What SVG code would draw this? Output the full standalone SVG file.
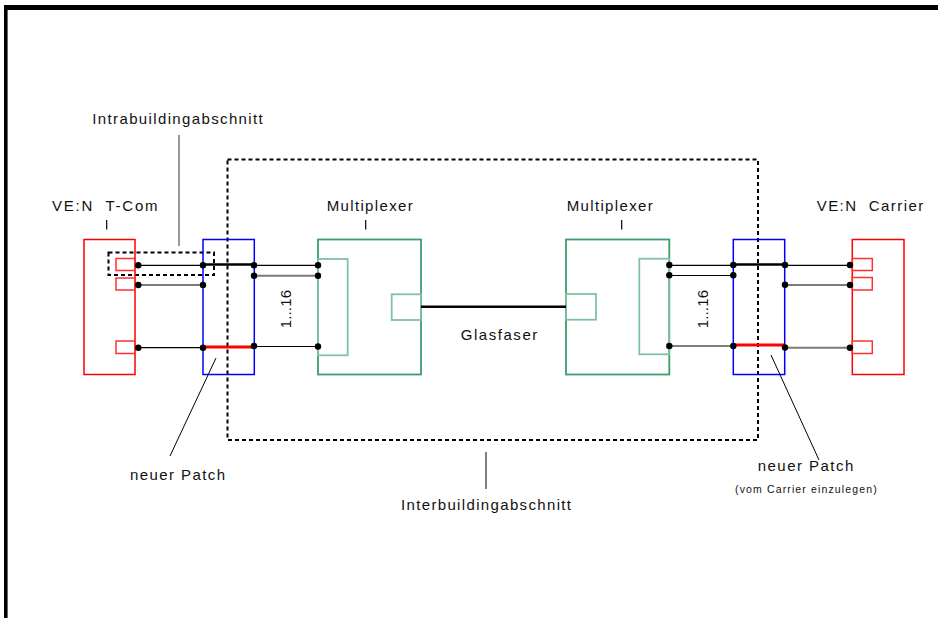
<svg xmlns="http://www.w3.org/2000/svg" width="938" height="618" viewBox="0 0 938 618">
<style>
text{font-family:"Liberation Sans",Arial,sans-serif;font-size:15px;fill:#111}
.small{font-size:10.5px}
.red{fill:none;stroke:#ff0000;stroke-width:1.5}
.port{fill:none;stroke:#ff3030;stroke-width:1.5}
.blue{fill:none;stroke:#0000ff;stroke-width:1.5}
.green{fill:none;stroke:#3b9d6c;stroke-width:1.8}
.green2{fill:none;stroke:#7fc2a2;stroke-width:1.8}
.thin{stroke:#000;stroke-width:1.2;fill:none}
.gray{stroke:#7a7a7a;stroke-width:2;fill:none}
.bold{stroke:#000;stroke-width:2.6;fill:none}
.patch{stroke:#ff0000;stroke-width:3;fill:none}
.dash{fill:none;stroke:#000;stroke-width:2;stroke-dasharray:4 3}
.lead{stroke:#000;stroke-width:1;fill:none}
.lead2{stroke:#777;stroke-width:1.5;fill:none}
.tick{stroke:#000;stroke-width:1.2}
.dot{fill:#000}
</style>
<g id="frame">
<line x1="4" y1="7.5" x2="938" y2="7.5" stroke="#000" stroke-width="5"/>
<line x1="5.8" y1="5" x2="5.8" y2="618" stroke="#000" stroke-width="3.6"/>
</g>
<g id="interbuilding-area">
<rect class="dash" x="227.5" y="159.5" width="530.5" height="280.5"/>
</g>
<g id="intrabuilding-area">
<rect class="dash" x="108.5" y="252.5" width="105.5" height="22.5"/>
</g>
<g id="ven-tcom">
<rect class="red" x="84" y="239.5" width="51" height="135"/>
<rect class="port" x="116" y="258.5" width="19" height="12"/>
<rect class="port" x="116" y="278" width="19" height="12"/>
<rect class="port" x="116" y="341" width="19" height="12.5"/>
<text x="52" y="211" textLength="105.5" lengthAdjust="spacing" xml:space="preserve">VE:N  T-Com</text>
<line class="tick" x1="106.7" y1="220" x2="106.7" y2="229.5"/>
</g>
<g id="patchpanel-left">
<rect class="blue" x="203" y="239.5" width="51.3" height="135"/>
</g>
<g id="mux-left">
<rect class="green" x="318" y="239.5" width="103" height="135"/>
<rect class="green2" x="318" y="259" width="29.7" height="96.3"/>
<rect class="green2" x="391.7" y="294.3" width="29.3" height="25.7"/>
<text x="326.7" y="211" textLength="86" lengthAdjust="spacing">Multiplexer</text>
<line class="tick" x1="365.7" y1="220" x2="365.7" y2="229.5"/>
</g>
<g id="mux-right">
<rect class="green" x="566" y="239.5" width="103.3" height="135"/>
<rect class="green2" x="639.3" y="258.7" width="29.7" height="95.6"/>
<rect class="green2" x="566" y="294" width="30" height="25.7"/>
<text x="566.7" y="211" textLength="86" lengthAdjust="spacing">Multiplexer</text>
<line class="tick" x1="621.7" y1="220" x2="621.7" y2="229.5"/>
</g>
<g id="patchpanel-right">
<rect class="blue" x="733.3" y="239.5" width="51.4" height="135"/>
</g>
<g id="ven-carrier">
<rect class="red" x="852.3" y="239.5" width="51.7" height="135"/>
<rect class="port" x="852.3" y="258.5" width="20" height="12"/>
<rect class="port" x="852.3" y="277.5" width="20" height="12.5"/>
<rect class="port" x="852.3" y="341" width="20" height="12.5"/>
<text x="816.7" y="211" textLength="106.6" lengthAdjust="spacing" xml:space="preserve">VE:N  Carrier</text>
</g>
<g id="connectors">
<line class="thin" x1="138" y1="265.3" x2="203" y2="265.3"/>
<line class="bold" x1="203" y1="264.5" x2="254" y2="264.5"/>
<line class="thin" x1="254" y1="265.3" x2="318" y2="265.3"/>
<line class="gray" x1="138" y1="285" x2="203" y2="285"/>
<line class="gray" x1="254" y1="275.7" x2="318" y2="275.7"/>
<line class="thin" x1="138" y1="347.7" x2="203" y2="347.7"/>
<line class="patch" x1="203" y1="347" x2="254" y2="347"/>
<line class="thin" x1="254" y1="346.5" x2="318" y2="346.5"/>
<line class="bold" x1="421" y1="306.7" x2="566" y2="306.7"/>
<line class="thin" x1="669" y1="265.3" x2="733.3" y2="265.3"/>
<line class="bold" x1="733.3" y1="264.5" x2="785" y2="264.5"/>
<line class="thin" x1="785" y1="265.3" x2="850" y2="265.3"/>
<line class="thin" x1="669" y1="275.5" x2="733.3" y2="275.5"/>
<line class="gray" x1="785" y1="285" x2="850" y2="285"/>
<line class="thin" x1="669" y1="346" x2="733.3" y2="346"/>
<line class="patch" x1="733.3" y1="345" x2="785" y2="345"/>
<line class="gray" x1="785" y1="347.7" x2="850" y2="347.7"/>
<g class="dot">
<circle cx="138.3" cy="265.3" r="3.2"/><circle cx="138.3" cy="285" r="3.2"/><circle cx="138.3" cy="347.7" r="3.2"/>
<circle cx="203" cy="265.3" r="3.2"/><circle cx="203" cy="285" r="3.2"/><circle cx="203" cy="347.7" r="3.2"/>
<circle cx="254" cy="265.3" r="3.2"/><circle cx="254" cy="275.7" r="3.2"/><circle cx="254" cy="346" r="3.2"/>
<circle cx="318" cy="265.3" r="3.2"/><circle cx="318" cy="275.7" r="3.2"/><circle cx="318" cy="346.5" r="3.2"/>
<circle cx="669.3" cy="265" r="3.2"/><circle cx="669.3" cy="275.3" r="3.2"/><circle cx="669.3" cy="346" r="3.2"/>
<circle cx="733.3" cy="265" r="3.2"/><circle cx="733.3" cy="275.3" r="3.2"/><circle cx="733.3" cy="346" r="3.2"/>
<circle cx="785" cy="265" r="3.2"/><circle cx="785" cy="284.7" r="3.2"/><circle cx="785" cy="347.5" r="3.2"/>
<circle cx="850" cy="265" r="3.2"/><circle cx="850" cy="285" r="3.2"/><circle cx="850" cy="347.7" r="3.2"/>
</g>
<line class="lead2" x1="179" y1="135" x2="179" y2="246"/>
<line class="lead" x1="486" y1="452" x2="486" y2="489"/>
<line class="lead" x1="216" y1="358" x2="170" y2="456"/>
<line class="lead" x1="771" y1="355" x2="819" y2="460"/>
</g>
<g id="labels">
<text x="92.3" y="124" textLength="170.4" lengthAdjust="spacing">Intrabuildingabschnitt</text>
<text x="401" y="510" textLength="170" lengthAdjust="spacing">Interbuildingabschnitt</text>
<text x="460.7" y="340" textLength="76.6" lengthAdjust="spacing">Glasfaser</text>
<text transform="translate(291,328.3) rotate(-90)" textLength="38.3" lengthAdjust="spacing">1...16</text>
<text transform="translate(708.3,328.3) rotate(-90)" textLength="38.3" lengthAdjust="spacing">1...16</text>
<text x="130" y="480" textLength="95" lengthAdjust="spacing">neuer Patch</text>
<text x="757.7" y="471" textLength="95.6" lengthAdjust="spacing">neuer Patch</text>
<text class="small" x="735" y="493" textLength="141.7" lengthAdjust="spacing">(vom Carrier einzulegen)</text>
</g>
</svg>
